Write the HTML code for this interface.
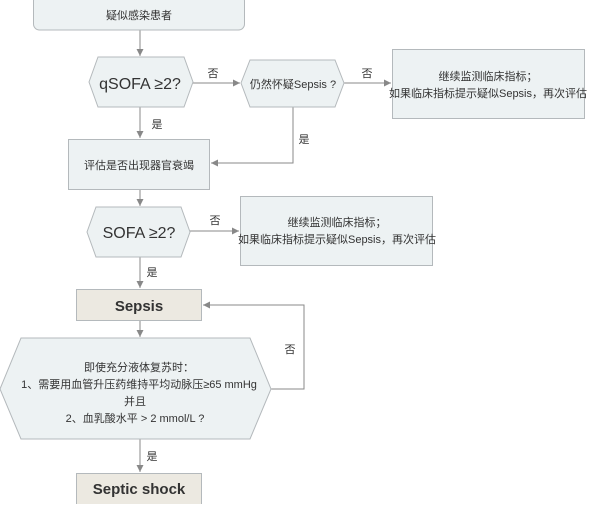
<!DOCTYPE html>
<html><head><meta charset="utf-8"><style>
html,body{margin:0;padding:0;background:#fff;}
svg text{font-family:"Liberation Sans","Noto Sans CJK SC",sans-serif;fill:#333;}
</style></head><body>
<svg width="600" height="504" viewBox="0 0 600 504" xmlns="http://www.w3.org/2000/svg">
<defs><marker id="a" markerWidth="8" markerHeight="8" refX="7" refY="4" orient="auto" markerUnits="userSpaceOnUse"><path d="M0,0.5 L7,4 L0,7.5 Z" fill="#888"/></marker></defs>
<g stroke="#8a8a8a" stroke-width="1" fill="none" marker-end="url(#a)">
<line x1="140" y1="30" x2="140" y2="56"/>
<line x1="193" y1="83" x2="240" y2="83"/>
<line x1="344" y1="83" x2="391" y2="83"/>
<line x1="140" y1="107" x2="140" y2="138"/>
<polyline points="293,107 293,163 211,163"/>
<line x1="140" y1="189" x2="140" y2="206"/>
<line x1="190" y1="231" x2="239" y2="231"/>
<line x1="140" y1="257" x2="140" y2="288"/>
<line x1="140" y1="320" x2="140" y2="337"/>
<polyline points="271,389 304,389 304,305 203,305"/>
<line x1="140" y1="439" x2="140" y2="472"/>
</g>
<g stroke="#b4b9bc" stroke-width="1" fill="#edf2f3">
<rect x="33.5" y="-5" width="211" height="35" rx="6"/>
<polygon points="89,82 98,57 184,57 193,82 184,107 98,107"/>
<polygon points="241,83 250,60 335,60 344,83 335,107 250,107"/>
<rect x="392.5" y="49.5" width="192" height="69"/>
<rect x="68.5" y="139.5" width="141" height="50"/>
<polygon points="87,232 96,207 181,207 190,232 181,257 96,257"/>
<rect x="240.5" y="196.5" width="192" height="69"/>
<polygon points="0,389 21,338 250,338 271,389 250,439 21,439"/>
<rect x="76.5" y="289.5" width="125" height="31" fill="#ece9e1"/>
<rect x="76.5" y="473.5" width="125" height="35" fill="#ece9e1"/>
</g>
<g font-size="11" text-anchor="middle">
<text x="139" y="19">疑似感染患者</text>
<text x="140" y="89" font-size="16">qSOFA ≥2?</text>
<text x="293" y="88">仍然怀疑Sepsis ?</text>
<text x="488" y="80">继续监测临床指标；</text>
<text x="488" y="97">如果临床指标提示疑似Sepsis，再次评估</text>
<text x="139" y="169">评估是否出现器官衰竭</text>
<text x="139" y="238" font-size="16">SOFA ≥2?</text>
<text x="337" y="226">继续监测临床指标；</text>
<text x="337" y="243">如果临床指标提示疑似Sepsis，再次评估</text>
<text x="139" y="311" font-size="15" font-weight="bold">Sepsis</text>
<text x="139" y="371">即使充分液体复苏时：</text>
<text x="139" y="388">1、需要用血管升压药维持平均动脉压≥65 mmHg</text>
<text x="135" y="405">并且</text>
<text x="135" y="422">2、血乳酸水平 &gt; 2 mmol/L ?</text>
<text x="139" y="494" font-size="15" font-weight="bold">Septic shock</text>
<text x="213" y="77">否</text>
<text x="367" y="77">否</text>
<text x="157" y="128">是</text>
<text x="304" y="143">是</text>
<text x="215" y="224">否</text>
<text x="152" y="276">是</text>
<text x="290" y="353">否</text>
<text x="152" y="460">是</text>
</g>
</svg>
</body></html>
